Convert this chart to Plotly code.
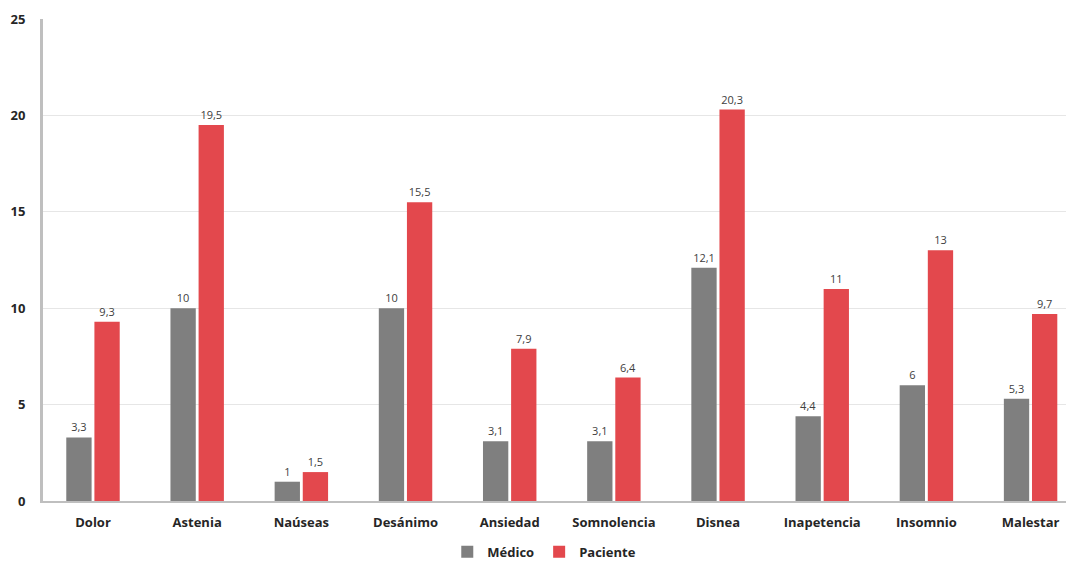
import plotly.graph_objects as go

categories = ["Dolor", "Astenia", "Naúseas", "Desánimo", "Ansiedad", "Somnolencia",
              "Disnea", "Inapetencia", "Insomnio", "Malestar"]
medico = [3.3, 10, 1, 10, 3.1, 3.1, 12.1, 4.4, 6, 5.3]
paciente = [9.3, 19.5, 1.5, 15.5, 7.9, 6.4, 20.3, 11, 13, 9.7]
y_ticks = [0, 5, 10, 15, 20, 25]

def fmt(v):
    s = ("%g" % v)
    return s.replace(".", ",")

label_font = dict(family="Open Sans", size=11, color="#404040")

fig = go.Figure()
fig.add_trace(go.Bar(
    name="Médico", x=categories, y=medico,
    marker=dict(color="#7f7f7f", line=dict(width=0)),
    text=[fmt(v) for v in medico], textposition="outside",
    textfont=label_font, outsidetextfont=label_font,
    cliponaxis=False,
))
fig.add_trace(go.Bar(
    name="Paciente", x=categories, y=paciente,
    marker=dict(color="#e3484d", line=dict(width=0)),
    text=[fmt(v) for v in paciente], textposition="outside",
    textfont=label_font, outsidetextfont=label_font,
    cliponaxis=False,
))

fig.update_layout(
    width=1066, height=562,
    margin=dict(l=43, r=0, t=19, b=61),
    paper_bgcolor="white", plot_bgcolor="white",
    barmode="group", bargap=0.46, bargroupgap=0.1,
    font=dict(family="Open Sans", color="#262626"),
    showlegend=True,
    legend=dict(orientation="h", x=0.49, xanchor="center",
                yref="container", y=0.018, yanchor="middle",
                font=dict(family="Open Sans", size=13, color="#262626", weight="bold"),
                itemwidth=30, traceorder="normal", tracegroupgap=0),
)
fig.update_xaxes(
    range=[-0.48, 9.34], showgrid=False,
    showline=True, linecolor="#bfbfbf", linewidth=2,
    tickfont=dict(family="Open Sans", size=13, color="#262626", weight="bold"),
    ticks="", ticklen=0, ticklabelstandoff=8,
)
fig.update_yaxes(
    range=[0, 25], tickvals=y_ticks, showgrid=True, gridcolor="#e6e6e6", gridwidth=1,
    showline=True, linecolor="#bfbfbf", linewidth=3, zeroline=False,
    tickfont=dict(family="Open Sans", size=13, color="#262626", weight="bold"),
    ticks="", ticklabelstandoff=12,
)
fig.write_html("out.html")
